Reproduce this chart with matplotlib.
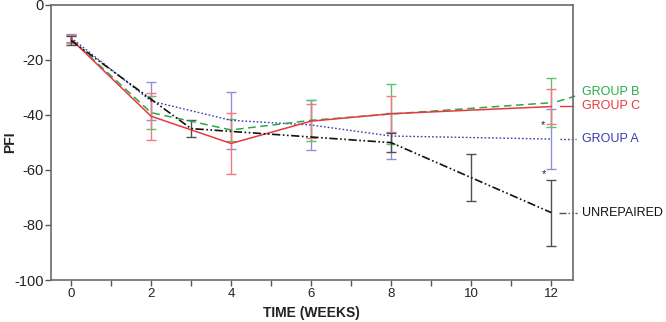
import numpy as np
import matplotlib
matplotlib.use("Agg")
import matplotlib.pyplot as plt

plt.rcParams['font.family'] = ['Liberation Sans', 'DejaVu Sans']
plt.rcParams['axes.unicode_minus'] = False

# ------------------------------------------------------------
# DATA
# ------------------------------------------------------------
weeks_a = [0, 2, 4, 6, 8, 12]
pfi_a = [-12.0, -35.0, -42.0, -43.7, -47.7, -48.8]
err_a = [1.5, 7.0, 10.4, 9.0, 8.5, 10.8]

weeks_b = [0, 2, 4, 6, 8, 12]
pfi_b = [-12.5, -39.2, -45.5, -42.0, -39.7, -35.6]
err_b = [1.5, 6.0, 4.0, 7.4, 11.0, 9.0]

weeks_c = [0, 2, 4, 6, 8, 12]
pfi_c = [-12.5, -40.5, -50.4, -42.3, -39.6, -37.0]
err_c = [1.5, 8.5, 11.2, 6.2, 6.5, 6.2]

weeks_u = [0, 3, 8, 10, 12]
pfi_u = [-13.0, -45.0, -50.1, -62.8, -75.5]
err_u = [1.5, 3.0, 3.5, 8.5, 12.0]

labels = ['GROUP B', 'GROUP C', 'GROUP A', 'UNREPAIRED']
label_y = [-31.6, -36.8, -48.6, -75.5]

star_x = [11.79, 11.82]
star_y = [-43.7, -61.5]

# ------------------------------------------------------------
# STYLE
# ------------------------------------------------------------
RED, RED_L = '#e8383f', '#f07a80'
GREEN, GREEN_L = '#2aa84a', '#5cc26f'
BLUE, BLUE_L = '#3b3bb0', '#8f8fd8'
BLACK, BLACK_L = '#111111', '#505050'

fig = plt.figure(figsize=(6.66, 3.22), dpi=100)
ax = fig.add_axes([0.0766, 0.1304, 0.7834, 0.855])

ek = dict(fmt='none', capsize=3.6, elinewidth=1.0, capthick=1.0, zorder=2)
ax.errorbar(weeks_a, pfi_a, yerr=err_a, ecolor=BLUE_L, **ek)
ax.errorbar(weeks_b, pfi_b, yerr=err_b, ecolor=GREEN_L, **ek)
ax.errorbar(weeks_c, pfi_c, yerr=err_c, ecolor=RED_L, **ek)
ax.errorbar(weeks_u, pfi_u, yerr=err_u, ecolor=BLACK_L, **ek)

ls_a = (0, (1.2, 1.5))
ls_b = (0, (5, 3))
ls_c = '-'
ls_u = (0, (5, 1.5, 1, 1.5, 1, 1.5))

ax.plot(weeks_a, pfi_a, color=BLUE, lw=1.0, ls=ls_a, zorder=3)
ax.plot(weeks_b, pfi_b, color=GREEN, lw=1.1, ls=ls_b, zorder=3)
ax.plot(weeks_c, pfi_c, color=RED, lw=1.1, ls=ls_c, zorder=3)
ax.plot(weeks_u, pfi_u, color=BLACK, lw=1.2, ls=ls_u, zorder=3)

# leader lines to the labels
ax.plot([12.15, 12.6], [-35.2, -33.2], color=GREEN, lw=1.1, ls=ls_b, clip_on=False)
ax.plot([12.22, 12.54], [-36.8, -36.8], color=RED, lw=1.0, ls=ls_c, clip_on=False)
ax.plot([12.22, 12.63], [-48.6, -48.6], color=BLUE, lw=1.0, ls=ls_a, clip_on=False)
ax.plot([12.2, 12.65], [-75.5, -75.5], color=BLACK_L, lw=1.0, ls=ls_u, clip_on=False)

for lab, y, c in zip(labels, label_y, [GREEN, RED, BLUE, BLACK]):
    ax.text(12.78, y, lab, color=c, fontsize=9, va='center', ha='left', clip_on=False)

for x, y in zip(star_x, star_y):
    ax.text(x, y, '*', color='#222222', fontsize=8, ha='center', va='center')

# ------------------------------------------------------------
# AXES
# ------------------------------------------------------------
ax.set_xlim(-0.5, 12.54)
ax.set_ylim(-100, 0)
ax.set_xticks(range(0, 13))
ax.set_xticklabels([str(i) if i % 2 == 0 else '' for i in range(0, 13)])
ax.set_yticks(range(-100, 1, 20))
ax.tick_params(direction='out', length=4, width=1.0, color='#555555',
               labelsize=9.5, labelcolor='#222222', pad=2)
ax.tick_params(axis='y', pad=1.5, labelsize=10.5)
for s in ax.spines.values():
    s.set_color('#6a6a6a')
    s.set_linewidth(1.2)

ax.set_xlabel('TIME (WEEKS)', fontsize=10, fontweight='bold', color='#222222', labelpad=4)
fig.text(10 / 666, 0.1304 + 0.855 / 2, 'PFI', rotation=90, fontsize=10,
         fontweight='bold', color='#222222', ha='center', va='center')

fig.savefig('out.png', dpi=100)
